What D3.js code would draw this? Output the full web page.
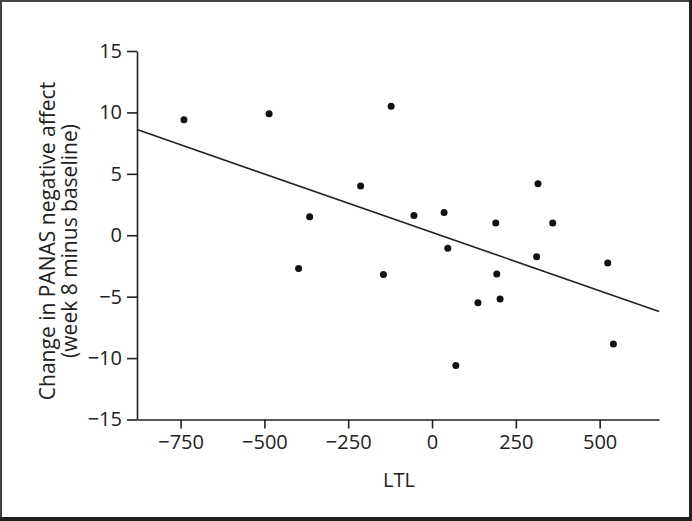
<!DOCTYPE html>
<html>
<head>
    <meta charset="utf-8">
    <title>LTL vs change in PANAS negative affect</title>
    <script src="https://cdnjs.cloudflare.com/ajax/libs/d3/7.8.5/d3.min.js"></script>
    <style>
        body { margin: 0; background: #fff; }
        text { font-family: "Open Sans", sans-serif; fill: #222; }
    </style>
</head>
<body>
<div id="graph"></div>
<script>
    var width = 692;
    var height = 521;

    // LTL on x, change in negative affect on y
    var ltl = [-740, -486, -122, -213, -365, -54, -398, -145, 36, 47,
               190, 316, 360, 312, 524, 193, 137, 203, 541, 71];
    var change = [9.4, 9.9, 10.5, 4.0, 1.5, 1.6, -2.7, -3.2, 1.85, -1.05,
                  1.0, 4.2, 1.0, -1.75, -2.25, -3.15, -5.5, -5.2, -8.85, -10.6];
    // fitted line end points
    var fitX = [-880, 677];
    var fitY = [8.6, -6.2];
    var xTicks = [-750, -500, -250, 0, 250, 500];
    var yTicks = [-15, -10, -5, 0, 5, 10, 15];

    var svg = d3.select("#graph").append("svg")
            .attr("width", width)
            .attr("height", height);

    // frame
    svg.append("rect")
            .attr("x", 1).attr("y", 1)
            .attr("width", width - 2.5).attr("height", height - 3)
            .attr("fill", "none")
            .attr("stroke", "#444")
            .attr("stroke-width", 2);
    svg.append("line")
            .attr("x1", 0).attr("x2", width)
            .attr("y1", height - 2).attr("y2", height - 2)
            .attr("stroke", "#222").attr("stroke-width", 4);
    svg.append("line")
            .attr("x1", width - 1.5).attr("x2", width - 1.5)
            .attr("y1", 0).attr("y2", height)
            .attr("stroke", "#222").attr("stroke-width", 3);

    var x = d3.scaleLinear().domain([-880, 677]).range([137, 659]);
    var y = d3.scaleLinear().domain([-15, 15]).range([419.5, 51]);

    var xAxis = svg.append("g")
            .attr("transform", "translate(0," + y(-15) + ")")
            .call(d3.axisBottom(x).tickValues(xTicks).tickSize(9).tickPadding(6).tickSizeOuter(0));
    var yAxis = svg.append("g")
            .attr("transform", "translate(" + x(-880) + ",0)")
            .call(d3.axisLeft(y).tickValues(yTicks).tickSize(10).tickPadding(5).tickSizeOuter(0));

    [xAxis, yAxis].forEach(function (g) {
        g.select(".domain").attr("stroke", "#222").attr("stroke-width", 1.6);
        g.selectAll(".tick line").attr("stroke", "#222").attr("stroke-width", 1.6);
        g.selectAll(".tick text")
                .attr("font-size", "20px")
                .attr("font-family", "'Open Sans', sans-serif")
                .attr("fill", "#222");
    });

    svg.append("text")
            .attr("x", 399)
            .attr("y", 487)
            .attr("text-anchor", "middle")
            .attr("font-size", "20px")
            .text("LTL");

    var ylab = svg.append("text")
            .attr("transform", "translate(55,241) rotate(-90)")
            .attr("text-anchor", "middle")
            .attr("font-size", "21px");
    ylab.append("tspan").attr("x", 0).attr("dy", 0).text("Change in PANAS negative affect");
    ylab.append("tspan").attr("x", 0).attr("dy", 21.5).text("(week 8 minus baseline)");

    svg.append("line")
            .attr("x1", x(fitX[0])).attr("y1", y(fitY[0]))
            .attr("x2", x(fitX[1])).attr("y2", y(fitY[1]))
            .attr("stroke", "#222")
            .attr("stroke-width", 1.6);

    svg.selectAll("circle")
            .data(ltl)
            .enter()
            .append("circle")
            .attr("cx", function (d) { return x(d); })
            .attr("cy", function (d, i) { return y(change[i]); })
            .attr("r", 3.5)
            .attr("fill", "#111");
</script>
</body>
</html>
